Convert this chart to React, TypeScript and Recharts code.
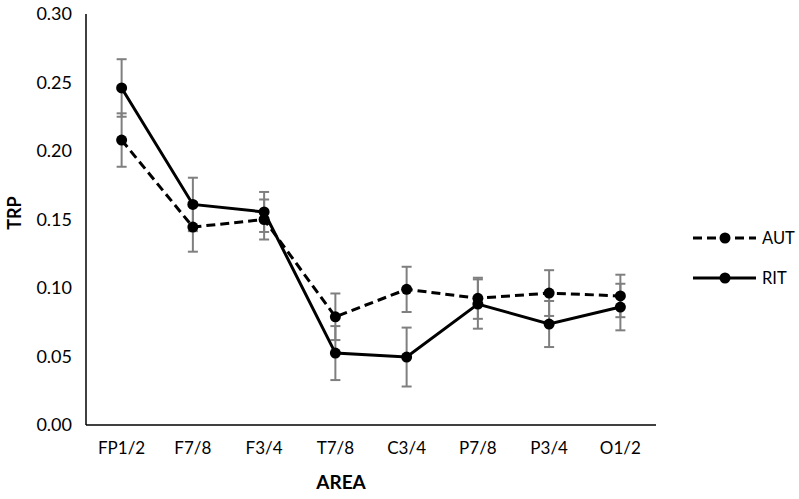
import React from 'react';
import { LineChart, Line, XAxis, YAxis, ErrorBar, Legend } from 'recharts';

const categories = ['FP1/2', 'F7/8', 'F3/4', 'T7/8', 'C3/4', 'P7/8', 'P3/4', 'O1/2'];
const autValues = [0.208, 0.1445, 0.150, 0.079, 0.099, 0.0925, 0.0963, 0.0942];
const autErrors = [0.0195, 0.018, 0.0146, 0.017, 0.0165, 0.015, 0.0167, 0.0155];
const ritValues = [0.246, 0.161, 0.1555, 0.0525, 0.0496, 0.0883, 0.0737, 0.0861];
const ritErrors = [0.021, 0.0195, 0.0146, 0.0197, 0.0215, 0.018, 0.0168, 0.017];
const yTicks = [0, 0.05, 0.1, 0.15, 0.2, 0.25, 0.3];

const data = categories.map((c, i) => ({
  area: c,
  AUT: autValues[i],
  autErr: autErrors[i],
  RIT: ritValues[i],
  ritErr: ritErrors[i],
}));

const FONT = 'Lato, "Open Sans", sans-serif';

const LegendContent = () => (
  <svg width={110} height={80} style={{ overflow: 'visible', display: 'block' }}>
    <line x1={3} y1={13} x2={66} y2={13} stroke="#000" strokeWidth={3} strokeDasharray="9 5" />
    <circle cx={35} cy={13} r={5.5} fill="#000" />
    <text x={72} y={13} dy="0.35em" fontSize={16.5} fontFamily={FONT} fill="#000">AUT</text>
    <line x1={3} y1={53} x2={66} y2={53} stroke="#000" strokeWidth={3} />
    <circle cx={35} cy={53} r={5.5} fill="#000" />
    <text x={72} y={53} dy="0.35em" fontSize={16.5} fontFamily={FONT} fill="#000">RIT</text>
  </svg>
);

const YLabel = () => (
  <text x={14} y={213} transform="rotate(-90 14 213)" textAnchor="middle" dominantBaseline="central"
    fontSize={18} fontWeight="bold" fontFamily={FONT} fill="#000">TRP</text>
);

const XLabel = () => (
  <text x={341} y={481} textAnchor="middle" dominantBaseline="central"
    fontSize={19} fontWeight="bold" fontFamily={FONT} fill="#000">AREA</text>
);

export default function App() {
  return (
    <div style={{ position: 'absolute', left: 0, top: 0, background: '#fff' }}>
      <LineChart
        width={799}
        height={499}
        data={data}
        margin={{ top: 14, right: 33, bottom: 0, left: 0 }}
        style={{ fontFamily: FONT }}
      >
        <XAxis
          dataKey="area"
          height={74}
          scale="band"
          tickLine={false}
          axisLine={{ stroke: '#000', strokeWidth: 1.5 }}
          tick={{ fill: '#000', fontSize: 17, fontFamily: FONT }}
          tickMargin={11}
          label={<XLabel />}
        />
        <YAxis
          width={86}
          domain={[0, 0.3]}
          ticks={yTicks}
          interval={0}
          tickLine={false}
          axisLine={{ stroke: '#000', strokeWidth: 1.5 }}
          tick={{ fill: '#000', fontSize: 18, fontFamily: FONT }}
          tickMargin={8}
          tickFormatter={(v: number) => v.toFixed(2)}
          label={<YLabel />}
        />
        <Legend
          layout="vertical"
          align="right"
          verticalAlign="middle"
          width={110}
          content={<LegendContent />}
          wrapperStyle={{ left: 690, top: 225, width: 110, height: 80 }}
        />
        <Line
          dataKey="AUT"
          stroke="#000"
          strokeWidth={3}
          strokeDasharray="9 5"
          dot={{ r: 5.5, fill: '#000', stroke: '#000', strokeWidth: 0 }}
          activeDot={false}
          isAnimationActive={false}
        >
          <ErrorBar dataKey="autErr" width={5} stroke="#7f7f7f" strokeWidth={2} direction="y" />
        </Line>
        <Line
          dataKey="RIT"
          stroke="#000"
          strokeWidth={3}
          dot={{ r: 5.5, fill: '#000', stroke: '#000', strokeWidth: 0 }}
          activeDot={false}
          isAnimationActive={false}
        >
          <ErrorBar dataKey="ritErr" width={5} stroke="#7f7f7f" strokeWidth={2} direction="y" />
        </Line>
      </LineChart>
    </div>
  );
}
